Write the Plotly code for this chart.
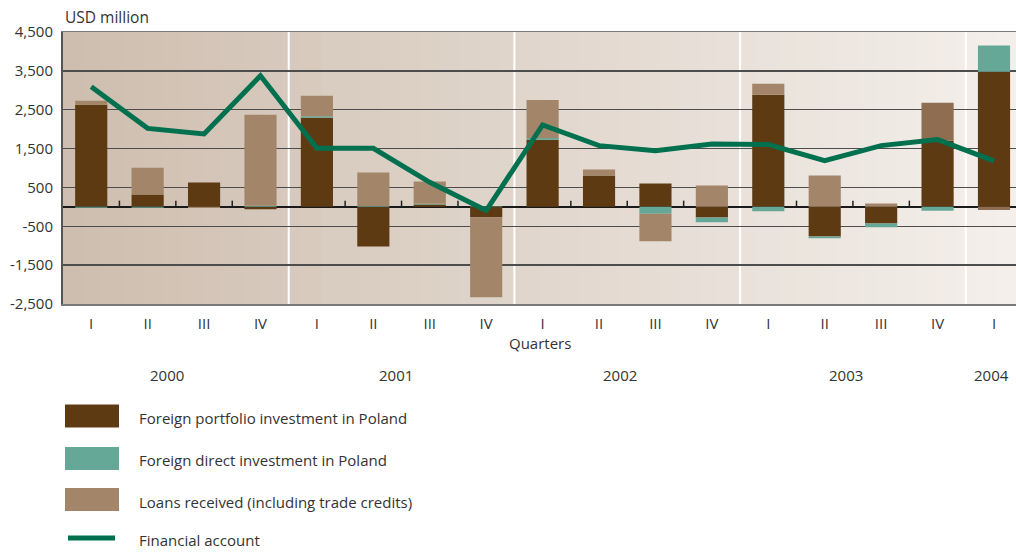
import plotly.graph_objects as go

# ---------------- data ----------------
quarters = ["I", "II", "III", "IV", "I", "II", "III", "IV", "I", "II", "III", "IV",
            "I", "II", "III", "IV", "I"]
years = ["2000", "2001", "2002", "2003", "2004"]
portfolio = [2630, 316, 625, -60, 2290, -1020, 60, -265, 1730, 805, 600, -275,
             2885, -763, -430, 1704, 3480]
fdi = [-20, -20, 0, 30, 40, 20, 20, 15, 45, 0, -180, -120, -110, -45, -95, -100, 670]
loans = [100, 690, -30, 2340, 530, 862, 570, -2060, 975, 155, -705, 548,
         285, 805, 85, 976, -80]
financial_account = [3090, 2020, 1877, 3375, 1507, 1507, 632, -95, 2108, 1576,
                     1447, 1620, 1602, 1190, 1576, 1730, 1182]
y_tick_vals = [-2500, -1500, -500, 500, 1500, 2500, 3500, 4500]
y_tick_text = ["-2,500", "-1,500", "-500", "500", "1,500", "2,500", "3,500", "4,500"]
series_names = ["Foreign portfolio investment in Poland",
                "Foreign direct investment in Poland",
                "Loans received (including trade credits)",
                "Financial account"]

# ---------------- styles ----------------
C_PORT = "#5e3a12"
C_FDI = "#66a898"
C_LOAN = "#a3866a"
C_LINE = "#00704f"
TXT = "#333333"
FONT = "Open Sans"

W, H = 1016, 553
ML, MR, MT, MB = 63, 0, 32, 249
PW, PH = W - ML - MR, H - MT - MB

def px2x(px):
    return (px - ML) / PW

def px2y(py):
    return (H - MB - py) / PH

xs = list(range(len(quarters)))

fig = go.Figure()
fig.add_bar(x=xs, y=portfolio, marker_color=C_PORT, marker_line_width=0, width=0.57,
            name=series_names[0])
fig.add_bar(x=xs, y=fdi, marker_color=C_FDI, marker_line_width=0, width=0.57,
            name=series_names[1])
loan_colors = [C_LOAN] * len(loans)
loan_colors[15] = "#8f6d50"
loan_colors[16] = "#8f6d50"
fig.add_bar(x=xs, y=loans, marker_color=loan_colors, marker_line_width=0, width=0.57,
            name=series_names[2])
fig.add_scatter(x=xs, y=financial_account, mode="lines",
                line=dict(color=C_LINE, width=5), name=series_names[3])

shapes = []
# background gradient stripes
left = (206, 190, 175)
right = (244, 239, 235)
n = 48
for i in range(n):
    t = i / (n - 1)
    c = tuple(int(round(left[k] + (right[k] - left[k]) * t)) for k in range(3))
    shapes.append(dict(type="rect", xref="paper", yref="paper",
                       x0=i / n, x1=(i + 1) / n + 0.002, y0=0, y1=1,
                       fillcolor="rgb(%d,%d,%d)" % c, line_width=0, layer="below"))
# year dividers
for b in [3.5, 7.5, 11.5, 15.5]:
    shapes.append(dict(type="line", xref="x", yref="paper", x0=b, x1=b, y0=0, y1=1,
                       line=dict(color="white", width=2), layer="below"))
# small ticks on zero line
for b in [0.5, 1.5, 2.5, 4.5, 5.5, 6.5, 8.5, 9.5, 10.5, 12.5, 13.5, 14.5]:
    shapes.append(dict(type="line", xref="x", yref="y", x0=b, x1=b, y0=0, y1=160,
                       line=dict(color="#222222", width=1.5), layer="above"))

annotations = []
annotations.append(dict(text="USD million", xref="paper", yref="paper",
                        x=px2x(63), y=px2y(17), xanchor="left", yanchor="middle",
                        showarrow=False, font=dict(family=FONT, size=15.5, color=TXT)))
annotations.append(dict(text="Quarters", xref="paper", yref="paper",
                        x=0.5, y=px2y(343), xanchor="center", yanchor="middle",
                        showarrow=False, font=dict(family=FONT, size=15, color=TXT)))
year_x = [1.35, 5.41, 9.37, 13.37, 15.96]
for yx, yl in zip(year_x, years):
    annotations.append(dict(text=yl, xref="x", yref="paper", x=yx, y=px2y(375),
                            xanchor="center", yanchor="middle", showarrow=False,
                            font=dict(family=FONT, size=15, color=TXT)))

# manual legend
legend_rows = [(416, C_PORT, "rect"), (458.5, C_FDI, "rect"),
               (499.5, C_LOAN, "rect"), (538, C_LINE, "line")]
for (cy, col, kind), name in zip(legend_rows, series_names):
    if kind == "rect":
        shapes.append(dict(type="rect", xref="paper", yref="paper",
                           x0=px2x(65), x1=px2x(119), y0=px2y(cy + 11.5), y1=px2y(cy - 11.5),
                           fillcolor=col, line_width=0))
    else:
        shapes.append(dict(type="line", xref="paper", yref="paper",
                           x0=px2x(68), x1=px2x(115), y0=px2y(cy), y1=px2y(cy),
                           line=dict(color=col, width=5)))
    annotations.append(dict(text=name, xref="paper", yref="paper",
                            x=px2x(137), y=px2y(cy + 2), xanchor="left", yanchor="middle",
                            showarrow=False, font=dict(family=FONT, size=15, color=TXT)))

fig.update_layout(
    width=W, height=H,
    margin=dict(l=ML, r=MR, t=MT, b=MB, pad=0),
    barmode="relative",
    bargap=0.43,
    showlegend=False,
    paper_bgcolor="white",
    plot_bgcolor="rgb(225,213,202)",
    shapes=shapes,
    annotations=annotations,
    font=dict(family=FONT, size=15, color=TXT),
    hovermode=False,
)
fig.update_xaxes(range=[-0.5, 16.39], tickmode="array", tickvals=xs, ticktext=quarters,
                 showgrid=False, zeroline=False, showline=True, mirror=True,
                 linecolor="#7a7a7a", linewidth=1.5, ticks="outside", ticklen=5,
                 tickcolor="rgba(0,0,0,0)", tickfont=dict(family=FONT, size=15, color=TXT))
fig.update_yaxes(range=[-2500, 4500], tickmode="array", tickvals=y_tick_vals,
                 ticktext=y_tick_text, showgrid=True, gridcolor="#4d4d4d", gridwidth=1.5,
                 zeroline=True, zerolinecolor="#1a1a1a", zerolinewidth=2,
                 showline=True, linecolor="#555555", linewidth=2,
                 ticks="outside", ticklen=5, tickcolor="rgba(0,0,0,0)",
                 tickfont=dict(family=FONT, size=15, color=TXT))

fig.write_html("out.html", config={"displayModeBar": False, "staticPlot": True},
               post_script="document.body.style.margin='0';document.body.style.padding='0';")
